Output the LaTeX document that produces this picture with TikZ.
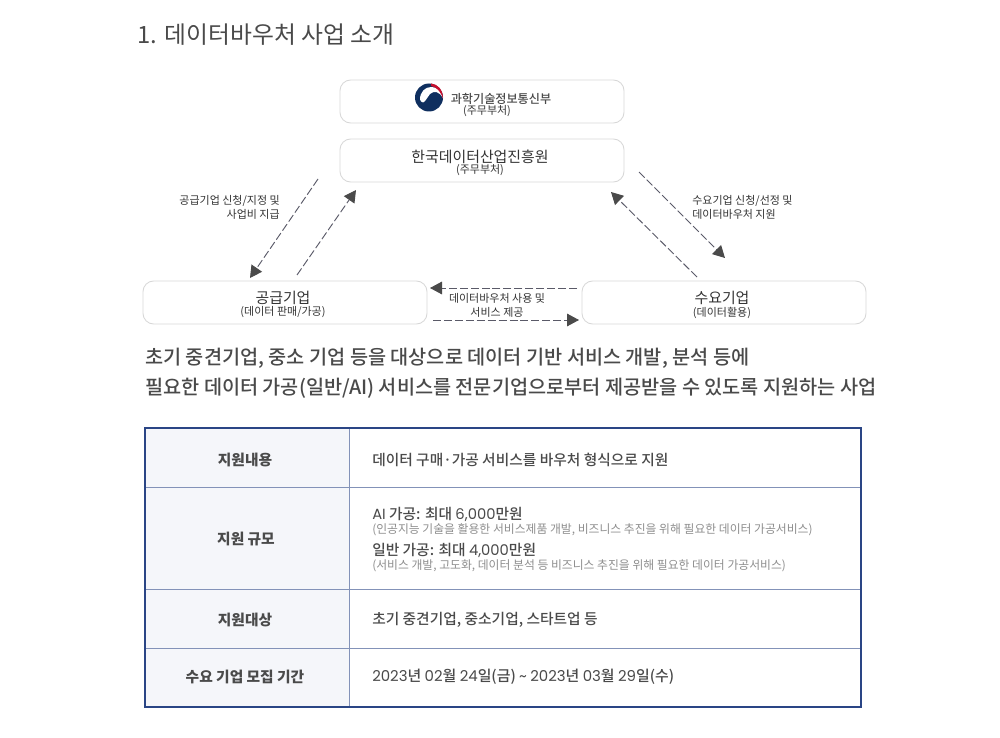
\documentclass[tikz,border=0pt]{standalone}
\usepackage{fontspec}
\setmainfont{Noto Sans CJK KR}
\newfontfamily\medf{Noto Sans CJK KR Medium}
\newfontfamily\lat{Poppins}
\usetikzlibrary{arrows.meta}
\definecolor{ink}{HTML}{333333}
\definecolor{midink}{HTML}{4A4A4A}
\definecolor{greyink}{HTML}{8E8E8E}
\definecolor{boxline}{HTML}{D8D8D8}
\definecolor{arrowc}{HTML}{5A5A68}
\definecolor{headc}{HTML}{4A4A4A}
\definecolor{tabouter}{HTML}{2A4585}
\definecolor{tabinner}{HTML}{8392B8}
\definecolor{headfill}{HTML}{F5F6FA}
\definecolor{logoblue}{HTML}{0F2F5F}
\definecolor{logored}{HTML}{C8102E}
\tikzset{
  x=0.75pt,y=-0.75pt,
  orgbox/.style={draw=boxline,line width=0.65pt,rounded corners=8pt,fill=white},
  flow/.style={draw=arrowc,line width=0.7pt,dash pattern=on 6pt off 2.2pt,-{Triangle[length=9pt,width=9.5pt,color=headc,fill=headc]}},
  lab/.style={inner sep=0pt,text=ink,align=center},
  small/.style={lab,font=\fontsize{8.25}{10.5}\selectfont},
  big/.style={lab,font=\fontsize{11.2}{13}\selectfont},
  cellhead/.style={inner sep=0pt,text=midink,font=\fontsize{11.05}{13}\bfseries},
  celltext/.style={inner sep=0pt,anchor=west,text=midink,font=\fontsize{11.05}{13}\medf},
  note/.style={inner sep=0pt,anchor=west,text=greyink,font=\fontsize{8.87}{11}\selectfont},
  para/.style={inner sep=0pt,anchor=west,text=midink,font=\fontsize{14.77}{20}\medf},
}
\begin{document}
\begin{tikzpicture}
\useasboundingbox (0,0) rectangle (1000,738);
\fill[white] (0,0) rectangle (1000,738);
\node[inner sep=0pt,anchor=west,text=midink,font=\fontsize{17.85}{22}\selectfont] (title) at (137.5,35) {1. 데이터바우처 사업 소개};

% organisation boxes
\draw[orgbox] (340,80) rectangle (624,123);
\draw[orgbox] (340,139) rectangle (624,182);
\draw[orgbox] (143,281) rectangle (427,324);
\draw[orgbox] (582,281) rectangle (866,324);

% logo
\fill[logoblue] (429,97.5) circle[radius=14];
\fill[white] (420,99.5) .. controls (420,92) and (425,87) .. (431,87)
  .. controls (437,87) and (441,90) .. (443,98)
  .. controls (440,92) and (434,90) .. (430,94)
  .. controls (427,98) and (425,102) .. (423,102.5)
  .. controls (421.5,102.5) and (420.5,101) .. (420,99.5) -- cycle;
\fill[logored] (431,83.5) .. controls (438,84) and (443.2,90) .. (443,99)
  .. controls (441,91.5) and (436.5,87) .. (431,86) -- cycle;

\node[lab,font=\fontsize{9.1}{11}\medf,text=midink] (msit) at (501,98.5) {과학기술정보통신부};
\node[small] (msitsub) at (487,111.5) {(주무부처)};
\node[big] (kdata) at (480,157) {한국데이터산업진흥원};
\node[small] (kdatasub) at (480,170.5) {(주무부처)};
\node[big] (supply) at (283,298) {공급기업};
\node[small] (supplysub) at (283,312.5) {(데이터 판매/가공)};
\node[big] (demand) at (722,298) {수요기업};
\node[small] (demandsub) at (722,312.5) {(데이터활용)};

% flow end points
\coordinate (a1) at (318,179); \coordinate (a2) at (250,278);
\coordinate (b1) at (297,275); \coordinate (b2) at (356,190);
\coordinate (c1) at (639,172); \coordinate (c2) at (725,258);
\coordinate (d1) at (697,277); \coordinate (d2) at (611,192);
\coordinate (e1) at (577,288); \coordinate (e2) at (430,288);
\coordinate (f1) at (433,320); \coordinate (f2) at (579,320);
\draw[flow] (a1) -- (a2);
\draw[flow] (b1) -- (b2);
\draw[flow] (c1) -- (c2);
\draw[flow] (d1) -- (d2);
\draw[flow] (e1) -- (e2);
\draw[flow] (f1) -- (f2);

\node[small,align=right,anchor=east] (l1) at (280,207) {공급기업 신청/지정 및\\사업비 지급};
\node[small,align=left,anchor=west] (l2) at (692,207) {수요기업 신청/선정 및\\데이터바우처 지원};
\node[small] (l3) at (497,305.5) {데이터바우처 사용 및\\서비스 제공};

% paragraph
\node[para] (p1) at (145,358.5) {초기 중견기업, 중소 기업 등을 대상으로 데이터 기반 서비스 개발, 분석 등에};
\node[para] (p2) at (145,388.5) {필요한 데이터 가공(일반/AI) 서비스를 전문기업으로부터 제공받을 수 있도록 지원하는 사업};

% table
\fill[headfill] (145,428) rectangle (349,707);
\draw[tabinner,line width=0.75pt] (145,487.5) -- (861,487.5);
\draw[tabinner,line width=0.75pt] (145,589.5) -- (861,589.5);
\draw[tabinner,line width=0.75pt] (145,648.5) -- (861,648.5);
\draw[tabinner,line width=0.75pt] (349,428) -- (349,707);
\draw[tabouter,line width=1.5pt] (145,428) rectangle (861,707);

\node[cellhead] (h1) at (245,460) {지원내용};
\node[cellhead] (h2) at (246,539) {지원 규모};
\node[cellhead] (h3) at (245,620) {지원대상};
\node[cellhead] (h4) at (245,677) {수요 기업 모집 기간};

\node[celltext] (t1) at (372,460) {데이터 구매·가공 서비스를 바우처 형식으로 지원};
\node[celltext] (t2a) at (372,514) {{\lat AI} 가공: 최대 {\lat 6,000}만원};
\node[note] (t2b) at (372,529.5) {(인공지능 기술을 활용한 서비스제품 개발, 비즈니스 추진을 위해 필요한 데이터 가공서비스)};
\node[celltext] (t2c) at (372,550) {일반 가공: 최대 {\lat 4,000}만원};
\node[note] (t2d) at (372,565.5) {(서비스 개발, 고도화, 데이터 분석 등 비즈니스 추진을 위해 필요한 데이터 가공서비스)};
\node[celltext] (t3) at (372,620) {초기 중견기업, 중소기업, 스타트업 등};
\node[celltext,font=\fontsize{11.2}{13}\medf] (t4) at (372,677) {{\lat 2023}년 {\lat 02}월 {\lat 24}일(금) {\lat\textasciitilde{}} {\lat 2023}년 {\lat 03}월 {\lat 29}일(수)};
\end{tikzpicture}
\end{document}
